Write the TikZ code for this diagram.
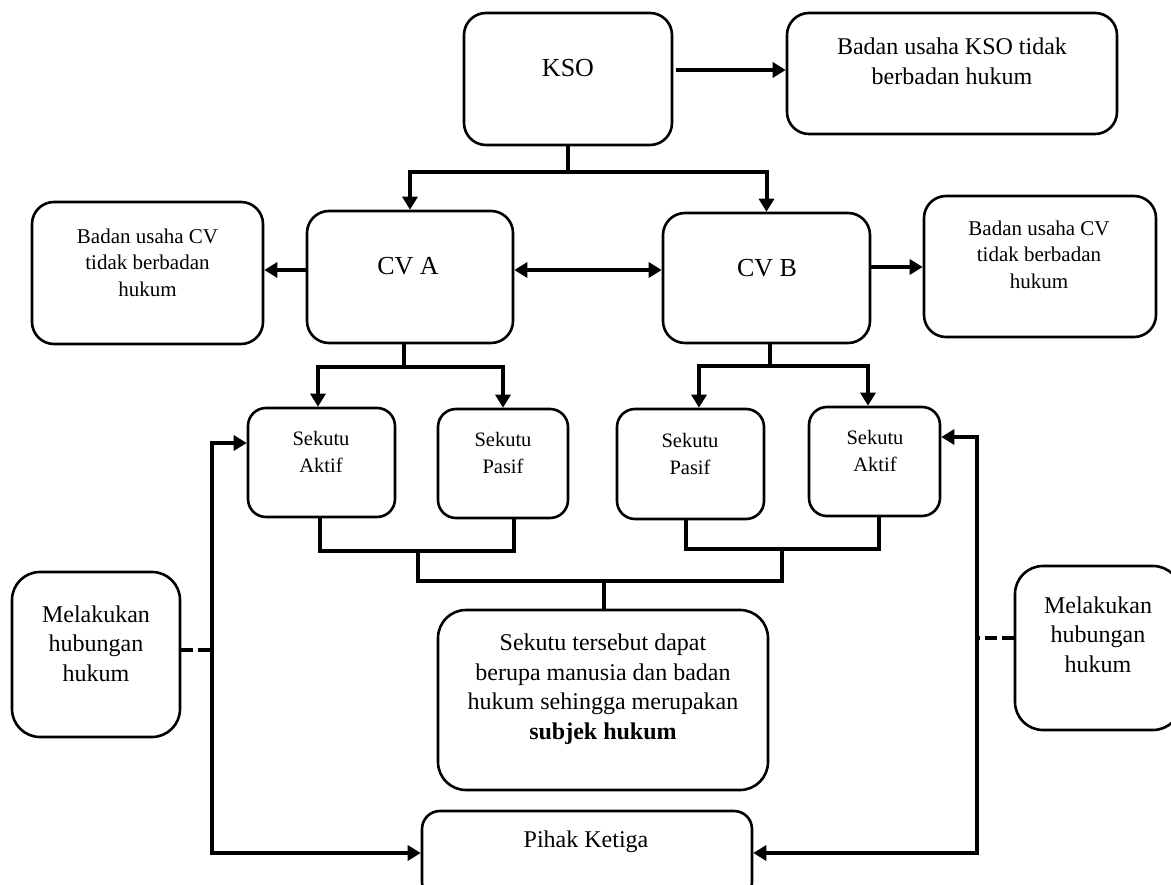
\documentclass[tikz,border=0pt]{standalone}
\usepackage{fontspec}
\setmainfont{Liberation Serif}
\usetikzlibrary{arrows.meta}
\begin{document}
\begin{tikzpicture}[x=1pt,y=-1pt,
  >={Triangle[length=13pt,width=15pt]},
  box/.style={draw, line width=2.6pt, rounded corners=22pt, inner sep=0pt},
  wire/.style={line width=4pt},
  dwire/.style={wire, dash pattern=on 12pt off 5pt},
  lbl/.style={inner sep=0pt, align=center, anchor=north},
  one/.style={inner sep=0pt, anchor=base},
  fhuge/.style={font=\fontsize{26}{31}\selectfont},
  fbig/.style={font=\fontsize{24}{29.5}\selectfont},
  fmid/.style={font=\fontsize{21}{26.5}\selectfont},
  fsmall/.style={font=\fontsize{20.5}{27}\selectfont},
]
\useasboundingbox (0,0) rectangle (1171,885);
\clip (0,0) rectangle (1171,885);

% boxes
\node[box, minimum width=208pt, minimum height=132pt] (kso) at (568,79) {};
\node[box, minimum width=330pt, minimum height=121pt] (bkso) at (952,73.5) {};
\node[box, minimum width=206pt, minimum height=132pt] (cva) at (410,277) {};
\node[box, minimum width=207pt, minimum height=130pt] (cvb) at (766.5,278) {};
\node[box, minimum width=231pt, minimum height=142pt] (bcva) at (147.5,273) {};
\node[box, minimum width=232pt, minimum height=141pt] (bcvb) at (1040,266.5) {};
\node[box, rounded corners=18pt, minimum width=147pt, minimum height=109pt] (sa1) at (321.5,462.5) {};
\node[box, rounded corners=18pt, minimum width=130pt, minimum height=109pt] (sp1) at (503,463.5) {};
\node[box, rounded corners=18pt, minimum width=147pt, minimum height=110pt] (sp2) at (690.5,464) {};
\node[box, rounded corners=18pt, minimum width=131pt, minimum height=109pt] (sa2) at (874.5,461.5) {};
\node[box, rounded corners=28pt, minimum width=330pt, minimum height=180pt] (subj) at (603,700) {};
\node[box, rounded corners=28pt, minimum width=168pt, minimum height=165pt] (mel1) at (96,654.5) {};
\node[box, rounded corners=28pt, minimum width=166pt, minimum height=164pt] (mel2) at (1098,648) {};
\node[box, rounded corners=18pt, minimum width=330pt, minimum height=89pt] (pihak) at (587,855.5) {};

% texts
\node[one, fhuge] (ksoT) at (568,77) {KSO};
\node[lbl, fbig] (bksoT) at (952,34) {\strut Badan usaha KSO tidak\\berbadan hukum};
\node[one, fhuge] (cvaT) at (408,275) {CV A};
\node[one, fhuge] (cvbT) at (767,277) {CV B};
\node[lbl, fmid] (bcvaT) at (147.5,224.5) {\strut Badan usaha CV\\tidak berbadan\\hukum};
\node[lbl, fmid] (bcvbT) at (1039,216.5) {\strut Badan usaha CV\\tidak berbadan\\hukum};
\node[lbl, fsmall] (sa1T) at (321,426.1) {\strut Sekutu\\Aktif};
\node[lbl, fsmall] (sp1T) at (503,427.1) {\strut Sekutu\\Pasif};
\node[lbl, fsmall] (sp2T) at (690,428.1) {\strut Sekutu\\Pasif};
\node[lbl, fsmall] (sa2T) at (875,425.1) {\strut Sekutu\\Aktif};
\node[lbl, fbig] (subjT) at (603,630) {\strut Sekutu tersebut dapat\\berupa manusia dan badan\\hukum sehingga merupakan\\\textbf{subjek hukum}};
\node[lbl, fbig] (mel1T) at (96,601.4) {\strut Melakukan\\hubungan\\hukum};
\node[lbl, fbig] (mel2T) at (1098,592.4) {\strut Melakukan\\hubungan\\hukum};
\node[one, fbig] (pihakT) at (586,847) {Pihak Ketiga};

% KSO connectors
\draw[->, wire, shorten <=3pt] (kso.east |- 0,70) -- (bkso.west |- 0,70);
\coordinate (ksoJ) at (568,172);
\draw[wire] (kso.south) -- (ksoJ);
\draw[->, wire] (ksoJ) -| (cva.north);
\draw[->, wire] (ksoJ) -| (cvb.north);

% CV connectors
\draw[->, wire] (cva.west |- 0,270) -- (bcva.east |- 0,270);
\draw[<->, wire] (cva.east |- 0,270) -- (cvb.west |- 0,270);
\draw[->, wire] (cvb.east |- 0,267) -- (bcvb.west |- 0,267);

\coordinate (cvaJ) at (404,367);
\draw[wire] (cvaJ |- cva.south) -- (cvaJ);
\draw[->, wire] (cvaJ) -| (318,0 |- sa1.north);
\draw[->, wire] (cvaJ) -| (sp1.north);

\coordinate (cvbJ) at (770,366);
\draw[wire] (cvbJ |- cvb.south) -- (cvbJ);
\draw[->, wire] (cvbJ) -| (699,0 |- sp2.north);
\draw[->, wire] (cvbJ) -| (868,0 |- sa2.north);

% partners joined to the note box
\draw[wire] (320,0 |- sa1.south) |- (514,551) -- (514,0 |- sp1.south);
\draw[wire] (686,0 |- sp2.south) |- (879,549) -- (879,0 |- sa2.south);
\coordinate (subJ) at (604,581);
\draw[wire] (418,551) |- (782,581) -- (782,549);
\draw[wire] (subJ) -- (subJ |- subj.north);

% legal relations with the third party
\draw[<->, wire] (sa1.west |- 0,443) -| (212,853) -- (pihak.west |- 0,853);
\draw[<->, wire] (sa2.east |- 0,437) -| (977,853) -- (pihak.east |- 0,853);
\draw[dwire] (mel1.east |- 0,650) -- (212,650);
\draw[dwire] (mel2.west |- 0,638) -- (977,638);
\end{tikzpicture}
\end{document}
